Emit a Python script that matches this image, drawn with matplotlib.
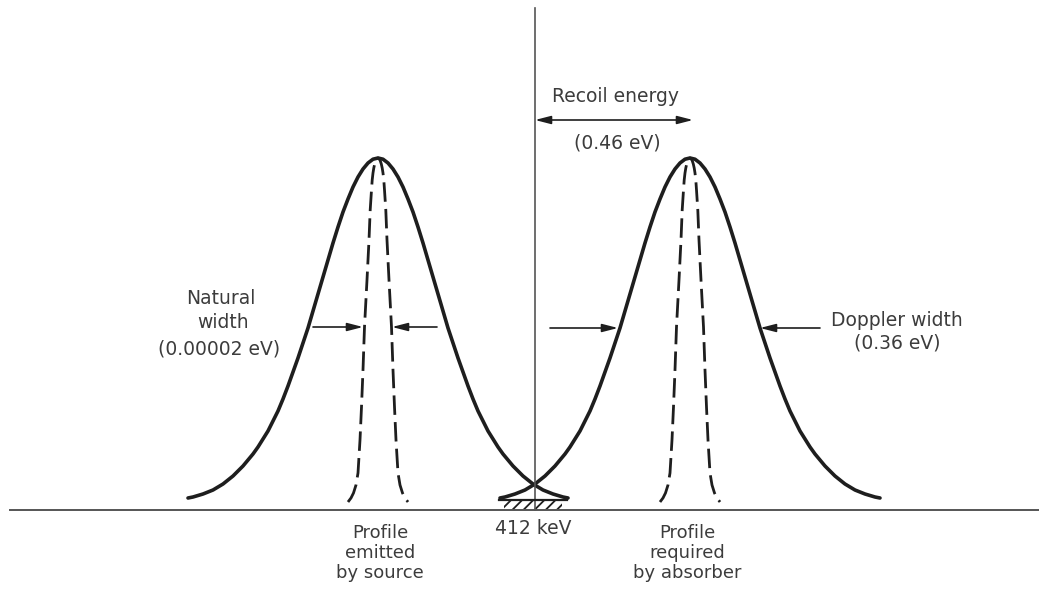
import matplotlib
matplotlib.use('Agg')
from matplotlib import pyplot as plt
import numpy as np

plt.rcParams["font.family"] = "DejaVu Sans"
plt.rcParams["font.size"] = 13.5
plt.rcParams["hatch.linewidth"] = 1.3

# Profile data (pixel units, y grows downwards)
# Doppler-broadened profile: height above its foot vs offset from the peak
DOPPLER_DX = [0, 5, 10, 15, 20, 25, 30, 35, 40, 45, 50, 55, 60, 65, 70, 75,
              80, 85, 90, 95, 100, 105, 110, 115, 120, 125, 130, 135, 140,
              145, 150, 155, 160, 165, 170, 175, 180, 185, 190]
DOPPLER_H = [342, 340.8, 337, 331, 323, 313, 301, 288, 273, 257, 240, 223,
             206, 189, 172, 157, 142, 128, 114, 101, 89, 79, 69, 61, 53, 46,
             40, 34, 29, 24, 20, 16, 13, 10, 8, 6, 4.5, 3, 2]

# natural line profile: half width vs depth
NATURAL_Y = [158, 160, 164, 168, 173, 180, 190, 210, 240, 280, 327, 370,
             407, 440, 473, 485, 493, 498, 502]
NATURAL_HW = [0, 2, 3.3, 4.2, 5, 5.8, 6.5, 7.8, 9, 11, 13.5, 15,
              16.5, 18, 20, 22, 24.5, 27, 30]

# line centres: emitted by source / required by absorber
CENTERS = [378, 690]
FOOT_Y = 500
BASE_Y = 510
ZERO_X = 535

INK = '#1e1e1e'
TEXT = '#3c3c3c'
LINE = '#555555'

fig = plt.figure(figsize=(10.39, 5.96), dpi=100)
ax = fig.add_axes([0, 0, 1, 1])
ax.set_xlim(0, 1039)
ax.set_ylim(596, 0)
ax.axis('off')

dx = np.array(DOPPLER_DX, dtype=float)
h = np.array(DOPPLER_H, dtype=float)
ny = np.array(NATURAL_Y, dtype=float)
nhw = np.array(NATURAL_HW, dtype=float)

for c in CENTERS:
    xs = np.concatenate([c - dx[::-1], c + dx[1:]])
    ys = FOOT_Y - np.concatenate([h[::-1], h[1:]])
    ax.plot(xs, ys, color=INK, lw=2.6, solid_capstyle='round', solid_joinstyle='round')

    xn = np.concatenate([c - nhw[::-1], c + nhw[1:]])
    yn = np.concatenate([ny[::-1], ny[1:]])
    ax.plot(xn, yn, color=INK, lw=2.0, dashes=(7, 2.6))

# axes lines
ax.plot([10, 1039], [BASE_Y, BASE_Y], color=LINE, lw=1.4)
ax.plot([ZERO_X, ZERO_X], [8, BASE_Y], color=LINE, lw=1.2)

# overlap region at the line centre
ax.plot([499, 567], [FOOT_Y, FOOT_Y], color=INK, lw=1.6)
ax.fill_between([504, 562], FOOT_Y, BASE_Y, facecolor='none', edgecolor=INK,
                hatch='///', lw=0)

arrow = dict(arrowstyle='-|>,head_length=0.7,head_width=0.18', color=INK, lw=1.2,
             shrinkA=0, shrinkB=0)

# recoil energy
ax.annotate('', xy=(693, 120), xytext=(ZERO_X, 120),
            arrowprops=dict(arrow, arrowstyle='<|-|>,head_length=0.7,head_width=0.18'))
ax.text(615, 96, 'Recoil energy', ha='center', va='center', color=TEXT)
ax.text(617, 143, '(0.46 eV)', ha='center', va='center', color=TEXT)

# natural width
ax.annotate('', xy=(363, 327), xytext=(313, 327), arrowprops=arrow)
ax.annotate('', xy=(392, 327), xytext=(437, 327), arrowprops=arrow)
ax.text(221, 298, 'Natural', ha='center', va='center', color=TEXT)
ax.text(223, 323, 'width', ha='center', va='center', color=TEXT)
ax.text(219, 349, '(0.00002 eV)', ha='center', va='center', color=TEXT)

# doppler width
ax.annotate('', xy=(618, 328), xytext=(550, 328), arrowprops=arrow)
ax.annotate('', xy=(760, 328), xytext=(820, 328), arrowprops=arrow)
ax.text(897, 320, 'Doppler width', ha='center', va='center', color=TEXT)
ax.text(897, 343, '(0.36 eV)', ha='center', va='center', color=TEXT)

# bottom labels
for x, lines in [(380, ['Profile', 'emitted', 'by source']),
                 (687, ['Profile', 'required', 'by absorber'])]:
    for i, s in enumerate(lines):
        ax.text(x, 533 + 20 * i, s, ha='center', va='center', color=TEXT, fontsize=13)
ax.text(533, 528, '412 keV', ha='center', va='center', color=TEXT)

fig.savefig('out.png', dpi=100)
